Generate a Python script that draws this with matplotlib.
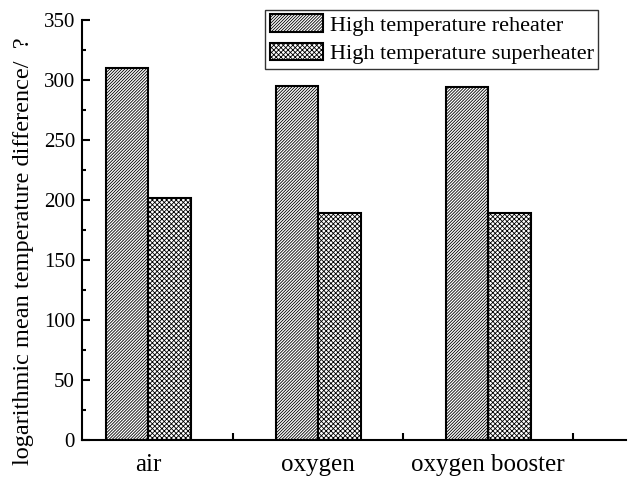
import numpy as np
import matplotlib.pyplot as plt

plt.rcParams['font.family'] = ['Liberation Serif', 'DejaVu Serif']
plt.rcParams['hatch.linewidth'] = 0.6

categories = ['air', 'oxygen', 'oxygen booster']
reheater = [310, 295, 294]
superheater = [202, 189, 189]
series_names = ['High temperature reheater', 'High temperature superheater']

x = np.arange(len(categories))
w = 0.25

fig = plt.figure(figsize=(6.37, 4.79), dpi=100)
ax = fig.add_axes([82/637, 1-440/479, 544/637, 420/479])

ax.bar(x - w/2, reheater, w, facecolor='white', edgecolor='black',
       linewidth=1.5, hatch='/' * 11, label=series_names[0])
ax.bar(x + w/2, superheater, w, facecolor='white', edgecolor='black',
       linewidth=1.5, hatch='x' * 7, label=series_names[1])

ax.set_xlim(-0.39, 2.81)
ax.set_ylim(0, 350)
ax.spines['top'].set_visible(False)
ax.spines['right'].set_visible(False)
ax.spines['left'].set_linewidth(1.5)
ax.spines['bottom'].set_linewidth(1.5)

ax.set_yticks(np.arange(0, 351, 50))
ax.set_yticks(np.arange(25, 351, 50), minor=True)
ax.tick_params(axis='y', which='major', direction='in', length=6, width=1.5,
               labelsize=15, pad=5)
ax.tick_params(axis='y', which='minor', direction='in', length=3, width=1.5)

ax.set_xticks(x)
ax.set_xticklabels(categories)
ax.set_xticks(x + 0.5, minor=True)
ax.tick_params(axis='x', which='major', length=0, labelsize=18, pad=10)
ax.tick_params(axis='x', which='minor', direction='in', length=5, width=1.5)

ax.set_ylabel('logarithmic mean temperature difference/  ?', fontsize=17.5)
ax.yaxis.set_label_coords(-0.088, 0.449)

leg = ax.legend(loc='upper right', bbox_to_anchor=(0.949, 1.024), fontsize=16,
                frameon=True, fancybox=False, edgecolor='black',
                handlelength=2.4, handleheight=0.85, handletextpad=0.3,
                borderpad=0.2, labelspacing=0.3, borderaxespad=0)
leg.get_frame().set_linewidth(1.0)

fig.savefig('out.png', dpi=100)
